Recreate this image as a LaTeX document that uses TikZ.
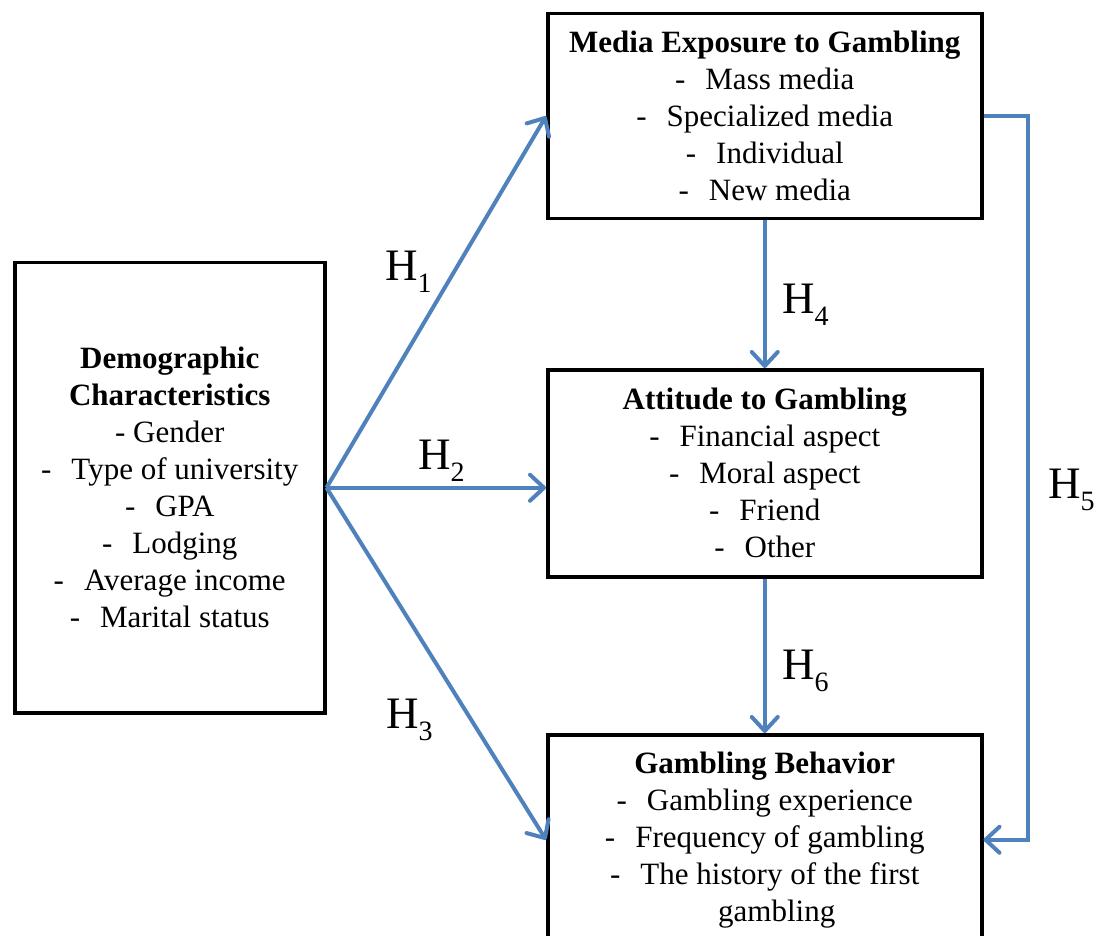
\documentclass[tikz,border=0pt]{standalone}
\usepackage{fontspec}
\setmainfont{Liberation Serif}
\usetikzlibrary{arrows.meta}
\definecolor{linkblue}{RGB}{79,129,189}
% list entry: dash followed by a wide gap, as in the original bullet style
\newcommand\lstentry[1]{-\hspace{20pt}#1}
% hypothesis subscript
\newcommand\hypsub[1]{\raisebox{-12pt}{\fontsize{28}{28}\selectfont #1}}
\begin{document}
\begin{tikzpicture}[x=1pt,y=-1pt,
  box/.style={draw=black, line width=3.5pt, minimum width=434pt, minimum height=205pt,
    inner sep=0pt, align=center, font=\fontsize{31}{37}\selectfont, anchor=north west},
  link/.style={draw=linkblue, line width=4pt,
    -{Straight Barb[length=14pt,width=26pt,line width=4pt,line cap=round,line join=round]}},
  hyp/.style={font=\fontsize{45}{45}\selectfont, anchor=base west, inner sep=0pt}]
\useasboundingbox (0,0) rectangle (1101,936);

% boxes
\node[box, minimum width=310pt, minimum height=450pt] (demo) at (13,261)
  {\textbf{Demographic}\\ \textbf{Characteristics}\\ - Gender\\ \lstentry{Type of university}\\
   \lstentry{GPA}\\ \lstentry{Lodging}\\ \lstentry{Average income}\\ \lstentry{Marital status}};
\node[box] (media) at (546,12)
  {\textbf{Media Exposure to Gambling}\\ \lstentry{Mass media}\\ \lstentry{Specialized media}\\
   \lstentry{Individual}\\ \lstentry{New media}};
\node[box, minimum height=207pt] (att) at (546,368)
  {\textbf{Attitude to Gambling}\\ \lstentry{Financial aspect}\\ \lstentry{Moral aspect}\\
   \lstentry{Friend}\\ \lstentry{Other}};
\node[box, minimum height=210pt] (gamb) at (546,733)
  {\textbf{Gambling Behavior}\\ \lstentry{Gambling experience}\\ \lstentry{Frequency of gambling}\\
   \lstentry{The history of the first}\\ \hspace*{24pt}gambling};

% connectors
\draw[link] (demo.east) -- (media.west);
\draw[link] (demo.east) -- (demo.east -| att.west);
\draw[link] (demo.east) -- (gamb.west);
\draw[link] (media.south) -- (att.north);
\draw[link] (att.south) -- (gamb.north);
\draw[link] (media.east) -- ++(44,0) |- (gamb.east);

% hypothesis labels
\node[hyp] (h1) at (385,280) {H\hypsub{1}};
\node[hyp] (h2) at (418,469) {H\hypsub{2}};
\node[hyp] (h3) at (386,728) {H\hypsub{3}};
\node[hyp] (h4) at (782,313) {H\hypsub{4}};
\node[hyp] (h5) at (1048,498) {H\hypsub{5}};
\node[hyp] (h6) at (782,679) {H\hypsub{6}};
\end{tikzpicture}
\end{document}
